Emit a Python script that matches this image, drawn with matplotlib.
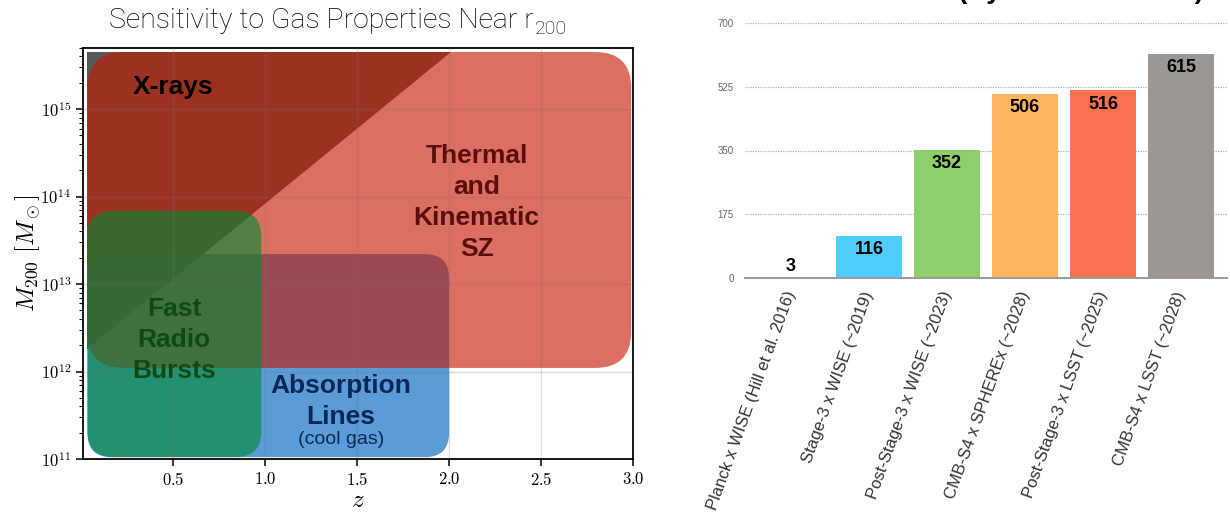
import matplotlib
matplotlib.use('Agg')
import matplotlib.pyplot as plt
from matplotlib.patches import FancyBboxPatch, Polygon

plt.rcParams['mathtext.fontset'] = 'cm'
plt.rcParams['font.family'] = ['Liberation Sans', 'DejaVu Sans']

# ---------------- left panel data ----------------
z_ticks = [0.5, 1.0, 1.5, 2.0, 2.5, 3.0]
z_tick_labels = [r'$0.5$', r'$1.0$', r'$1.5$', r'$2.0$', r'$2.5$', r'$3.0$']
mass_ticks = [1e11, 1e12, 1e13, 1e14, 1e15]
mass_tick_labels = [r'$10^{11}$', r'$10^{12}$', r'$10^{13}$', r'$10^{14}$', r'$10^{15}$']
z_limits = [0.01, 3.0]
mass_limits = [1e11, 5e15]

# probe regions (redshift range, mass range)
sz_z = [0.034, 2.99]
sz_mass = [1.1e12, 4.5e15]
abs_z = [0.034, 2.0]
abs_mass = [1.05e11, 2.2e13]
frb_z = [0.034, 0.98]
frb_mass = [1.05e11, 6.9e13]
xray_z = [0.034, 0.034, 2.008]
xray_mass = [1.81e12, 4.5e15, 4.5e15]

# ---------------- right panel data ----------------
experiments = ['Planck x WISE (Hill et al. 2016)', 'Stage-3 x WISE (~2019)',
               'Post-Stage-3 x WISE (~2023)', 'CMB-S4 x SPHEREx (~2028)',
               'Post-Stage-3 x LSST (~2025)', 'CMB-S4 x LSST (~2028)']
snr = [3, 116, 352, 506, 516, 615]
bar_colors = ['#f4a0b0', '#4fcdff', '#8dcf6a', '#feb65c', '#fd7153', '#9c9792']
snr_ticks = [0, 175, 350, 525, 700]

FW, FH = 1230, 514
fig = plt.figure(figsize=(FW / 100, FH / 100), dpi=100)
renderer = fig.canvas.get_renderer()

# ================= left panel =================
ax = fig.add_axes([83/FW, 1-459/FH, 550/FW, 411/FH])
ax.set_yscale('log')
ax.set_xlim(*z_limits)
ax.set_ylim(*mass_limits)
ax.set_xticks(z_ticks)
ax.set_xticklabels(z_tick_labels, fontsize=12)
ax.set_yticks(mass_ticks)
ax.set_yticklabels(mass_tick_labels, fontsize=12)
ax.tick_params(which='major', direction='out', length=5, width=1.1, top=False, right=False)
ax.tick_params(which='minor', direction='out', length=3, width=0.8, top=False, right=False)
ax.tick_params(axis='x', which='minor', bottom=False)
for s in ax.spines.values():
    s.set_linewidth(1.3)
    s.set_color('black')
ax.set_axisbelow(False)
ax.grid(True, which='major', color='0.45', alpha=0.25, lw=1.0)

W = ax.bbox.width
H = ax.bbox.height
to_axes = ax.transData + ax.transAxes.inverted()


def rounded_box(zr, mr, radius_px, color, alpha, zorder):
    (x0, y0), (x1, y1) = to_axes.transform([(zr[0], mr[0]), (zr[1], mr[1])])
    p = FancyBboxPatch((x0, y0), x1 - x0, y1 - y0,
                       boxstyle=f'round,pad=0,rounding_size={radius_px / W}',
                       mutation_aspect=W / H, transform=ax.transAxes,
                       facecolor=color, edgecolor='none', alpha=alpha, zorder=zorder)
    ax.add_patch(p)


tri = Polygon(list(zip(xray_z, xray_mass)), closed=True, facecolor='#595959',
              edgecolor='none', zorder=1.0)
ax.add_patch(tri)
rounded_box(abs_z, abs_mass, 24, (14/255, 108/255, 196/255), 0.68, 1.1)
rounded_box(sz_z, sz_mass, 36, (199/255, 23/255, 0), 0.62, 1.2)
rounded_box(frb_z, frb_mass, 26, (0, 139/255, 48/255), 0.61, 1.3)

bold = dict(fontweight='bold', ha='center', va='center', fontsize=19, zorder=4)
ax.text(0.50, 1.8e15, 'X-rays', color='black', **bold)
ax.text(2.15, 8.5e13, 'Thermal\nand\nKinematic\nSZ', color='#5a0e0a', linespacing=1.37, **bold)
ax.text(0.505, 2.3e12, 'Fast\nRadio\nBursts', color='#0e4a14', linespacing=1.37, **bold)
ax.text(1.413, 4.5e11, 'Absorption\nLines', color='#0a2856', linespacing=1.37, **bold)
ax.text(1.413, 1.65e11, '(cool gas)', color='#0a2856', ha='center', va='center',
        fontsize=14, zorder=4)

ax.set_xlabel(r'$z$', fontsize=18, labelpad=0)
ax.set_ylabel(r'$M_{200}\ [M_\odot]$', fontsize=18, labelpad=-2)

# title with a light-weight subscript
title_font = dict(fontweight='light', family=['Roboto', 'Lato', 'Open Sans', 'DejaVu Sans'])
t_main = fig.text(0, 1 - 28/FH, 'Sensitivity to Gas Properties Near r', ha='left',
                  va='baseline', fontsize=20.5, **title_font)
t_sub = fig.text(0, 1 - 34/FH, '200', ha='left', va='baseline', fontsize=14, **title_font)
w_main = t_main.get_window_extent(renderer).width
w_sub = t_sub.get_window_extent(renderer).width
left_px = 338 - (w_main + w_sub + 1) / 2
t_main.set_x(left_px / FW)
t_sub.set_x((left_px + w_main + 1) / FW)

# ================= right panel =================
ax2 = fig.add_axes([745/FW, 1-278/FH, 482/FW, 255/FH])
x = list(range(len(snr)))
ax2.bar(x, snr, width=0.85, color=bar_colors, zorder=2)
ax2.set_xlim(-0.59, len(snr) - 1 + 0.59)
ax2.set_ylim(snr_ticks[0], snr_ticks[-1])
ax2.set_yticks(snr_ticks)
ax2.set_yticklabels([str(t) for t in snr_ticks])
for side in ['top', 'right', 'left']:
    ax2.spines[side].set_visible(False)
ax2.spines['bottom'].set_color('#9a9a9a')
ax2.spines['bottom'].set_linewidth(1.4)
ax2.spines['bottom'].set_zorder(3)
ax2.yaxis.grid(True, linestyle=(0, (1, 1)), color='#b0b0b0', lw=0.9, zorder=0)
ax2.set_axisbelow(True)
ax2.tick_params(axis='y', length=0, labelsize=7, labelcolor='#666666', pad=8)
ax2.tick_params(axis='x', length=0, pad=10)
ax2.set_xticks(x)
ax2.set_xticklabels(experiments, rotation=70, ha='right', va='center',
                    rotation_mode='anchor', fontsize=12, color='#333333')
for xi, v in zip(x, snr):
    if v > 50:
        ax2.annotate(str(v), (xi, v), xytext=(0, -14), textcoords='offset pixels',
                     ha='center', va='center', fontsize=13, fontweight='bold', zorder=4)
    else:
        ax2.annotate(str(v), (xi, v), xytext=(0, 10), textcoords='offset pixels',
                     ha='center', va='center', fontsize=13, fontweight='bold', zorder=4)

fig.text(1204/FW, 1 + 1.5/FH, 'Total SNR (Hybrid Estimators)', ha='right',
         va='baseline', fontsize=19, fontweight='bold')

fig.savefig('out.png', dpi=100)
